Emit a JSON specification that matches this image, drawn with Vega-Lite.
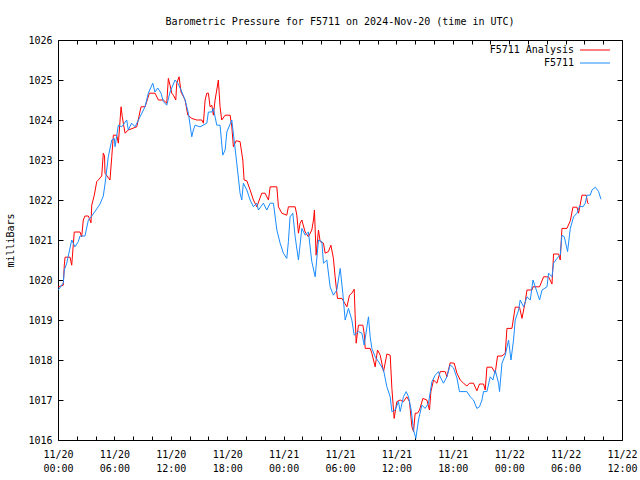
{
"$schema":"https://vega.github.io/schema/vega-lite/v6.json",
"width":564,"height":400,"autosize":"none",
"padding":{"left":58,"top":40,"right":18,"bottom":40},
"background":"#ffffff",
"title":{"text":"Barometric Pressure for F5711 on 2024-Nov-20 (time in UTC)","font":"DejaVu Sans Mono","fontSize":10,"fontWeight":"normal","anchor":"middle","offset":8,"color":"#000"},
"config":{"font":"DejaVu Sans Mono","view":{"stroke":"#000","strokeWidth":1},
"axis":{"domain":false,"grid":false,"tickColor":"#000","tickWidth":1,"labelColor":"#000","labelFont":"DejaVu Sans Mono","labelFontSize":10,"titleFont":"DejaVu Sans Mono","titleFontSize":10,"titleFontWeight":"normal","titleColor":"#000","labelFlush":false,"labelOverlap":false}},
"data":{"values":[
{"series":"F5711 Analysis","hour":0.03,"mb":1019.83},{"series":"F5711 Analysis","hour":0.56,"mb":1019.87},{"series":"F5711 Analysis","hour":0.67,"mb":1020.37},{"series":"F5711 Analysis","hour":0.75,"mb":1020.57},{"series":"F5711 Analysis","hour":1.28,"mb":1020.57},{"series":"F5711 Analysis","hour":1.46,"mb":1020.37},{"series":"F5711 Analysis","hour":1.73,"mb":1021.2},{"series":"F5711 Analysis","hour":2.34,"mb":1021.2},{"series":"F5711 Analysis","hour":2.52,"mb":1021.08},{"series":"F5711 Analysis","hour":2.69,"mb":1021.5},{"series":"F5711 Analysis","hour":2.87,"mb":1021.6},{"series":"F5711 Analysis","hour":3.23,"mb":1021.6},{"series":"F5711 Analysis","hour":3.51,"mb":1021.43},{"series":"F5711 Analysis","hour":3.59,"mb":1021.87},{"series":"F5711 Analysis","hour":3.86,"mb":1022.12},{"series":"F5711 Analysis","hour":4.12,"mb":1022.46},{"series":"F5711 Analysis","hour":4.29,"mb":1022.5},{"series":"F5711 Analysis","hour":4.65,"mb":1022.6},{"series":"F5711 Analysis","hour":4.82,"mb":1023.17},{"series":"F5711 Analysis","hour":4.95,"mb":1023.1},{"series":"F5711 Analysis","hour":5.0,"mb":1022.67},{"series":"F5711 Analysis","hour":5.53,"mb":1022.5},{"series":"F5711 Analysis","hour":5.72,"mb":1023.08},{"series":"F5711 Analysis","hour":5.89,"mb":1023.62},{"series":"F5711 Analysis","hour":6.25,"mb":1023.62},{"series":"F5711 Analysis","hour":6.42,"mb":1023.42},{"series":"F5711 Analysis","hour":6.71,"mb":1024.33},{"series":"F5711 Analysis","hour":6.84,"mb":1024.08},{"series":"F5711 Analysis","hour":7.13,"mb":1023.67},{"series":"F5711 Analysis","hour":7.48,"mb":1023.75},{"series":"F5711 Analysis","hour":8.38,"mb":1023.83},{"series":"F5711 Analysis","hour":8.83,"mb":1024.33},{"series":"F5711 Analysis","hour":9.26,"mb":1024.33},{"series":"F5711 Analysis","hour":9.72,"mb":1024.67},{"series":"F5711 Analysis","hour":10.32,"mb":1024.67},{"series":"F5711 Analysis","hour":10.68,"mb":1024.5},{"series":"F5711 Analysis","hour":11.21,"mb":1024.5},{"series":"F5711 Analysis","hour":11.57,"mb":1024.42},{"series":"F5711 Analysis","hour":11.74,"mb":1025.04},{"series":"F5711 Analysis","hour":11.92,"mb":1024.87},{"series":"F5711 Analysis","hour":12.1,"mb":1024.67},{"series":"F5711 Analysis","hour":12.27,"mb":1024.62},{"series":"F5711 Analysis","hour":12.53,"mb":1024.5},{"series":"F5711 Analysis","hour":12.63,"mb":1024.92},{"series":"F5711 Analysis","hour":12.88,"mb":1025.08},{"series":"F5711 Analysis","hour":13.09,"mb":1024.7},{"series":"F5711 Analysis","hour":13.52,"mb":1024.5},{"series":"F5711 Analysis","hour":13.81,"mb":1024.12},{"series":"F5711 Analysis","hour":14.23,"mb":1024.04},{"series":"F5711 Analysis","hour":14.76,"mb":1024.0},{"series":"F5711 Analysis","hour":15.3,"mb":1024.0},{"series":"F5711 Analysis","hour":15.47,"mb":1023.92},{"series":"F5711 Analysis","hour":15.65,"mb":1024.5},{"series":"F5711 Analysis","hour":15.83,"mb":1024.67},{"series":"F5711 Analysis","hour":16.0,"mb":1024.67},{"series":"F5711 Analysis","hour":16.18,"mb":1024.33},{"series":"F5711 Analysis","hour":16.36,"mb":1024.37},{"series":"F5711 Analysis","hour":16.53,"mb":1024.12},{"series":"F5711 Analysis","hour":16.71,"mb":1024.5},{"series":"F5711 Analysis","hour":16.89,"mb":1024.75},{"series":"F5711 Analysis","hour":17.06,"mb":1025.0},{"series":"F5711 Analysis","hour":17.24,"mb":1024.33},{"series":"F5711 Analysis","hour":17.42,"mb":1024.0},{"series":"F5711 Analysis","hour":17.78,"mb":1024.12},{"series":"F5711 Analysis","hour":18.31,"mb":1024.12},{"series":"F5711 Analysis","hour":18.49,"mb":1023.83},{"series":"F5711 Analysis","hour":18.66,"mb":1023.33},{"series":"F5711 Analysis","hour":18.95,"mb":1023.48},{"series":"F5711 Analysis","hour":19.37,"mb":1023.46},{"series":"F5711 Analysis","hour":19.66,"mb":1023.0},{"series":"F5711 Analysis","hour":19.8,"mb":1022.5},{"series":"F5711 Analysis","hour":20.09,"mb":1022.48},{"series":"F5711 Analysis","hour":20.44,"mb":1022.25},{"series":"F5711 Analysis","hour":20.79,"mb":1022.0},{"series":"F5711 Analysis","hour":21.15,"mb":1021.83},{"series":"F5711 Analysis","hour":21.68,"mb":1022.17},{"series":"F5711 Analysis","hour":22.03,"mb":1022.17},{"series":"F5711 Analysis","hour":22.39,"mb":1022.0},{"series":"F5711 Analysis","hour":22.57,"mb":1022.33},{"series":"F5711 Analysis","hour":23.28,"mb":1022.33},{"series":"F5711 Analysis","hour":23.45,"mb":1021.83},{"series":"F5711 Analysis","hour":23.81,"mb":1021.67},{"series":"F5711 Analysis","hour":24.34,"mb":1021.62},{"series":"F5711 Analysis","hour":24.51,"mb":1021.83},{"series":"F5711 Analysis","hour":25.23,"mb":1021.83},{"series":"F5711 Analysis","hour":25.41,"mb":1021.62},{"series":"F5711 Analysis","hour":25.58,"mb":1021.17},{"series":"F5711 Analysis","hour":25.76,"mb":1021.42},{"series":"F5711 Analysis","hour":25.94,"mb":1021.5},{"series":"F5711 Analysis","hour":26.29,"mb":1021.2},{"series":"F5711 Analysis","hour":26.64,"mb":1021.08},{"series":"F5711 Analysis","hour":27.0,"mb":1021.25},{"series":"F5711 Analysis","hour":27.18,"mb":1021.5},{"series":"F5711 Analysis","hour":27.28,"mb":1021.75},{"series":"F5711 Analysis","hour":27.46,"mb":1020.62},{"series":"F5711 Analysis","hour":27.71,"mb":1021.25},{"series":"F5711 Analysis","hour":27.89,"mb":1020.96},{"series":"F5711 Analysis","hour":28.24,"mb":1020.92},{"series":"F5711 Analysis","hour":28.42,"mb":1020.67},{"series":"F5711 Analysis","hour":28.77,"mb":1020.71},{"series":"F5711 Analysis","hour":29.03,"mb":1020.87},{"series":"F5711 Analysis","hour":29.3,"mb":1020.54},{"series":"F5711 Analysis","hour":29.48,"mb":1020.08},{"series":"F5711 Analysis","hour":29.73,"mb":1019.54},{"series":"F5711 Analysis","hour":30.2,"mb":1019.54},{"series":"F5711 Analysis","hour":30.73,"mb":1019.33},{"series":"F5711 Analysis","hour":31.01,"mb":1019.62},{"series":"F5711 Analysis","hour":31.26,"mb":1019.67},{"series":"F5711 Analysis","hour":31.51,"mb":1019.77},{"series":"F5711 Analysis","hour":31.72,"mb":1018.42},{"series":"F5711 Analysis","hour":31.96,"mb":1018.87},{"series":"F5711 Analysis","hour":32.43,"mb":1018.87},{"series":"F5711 Analysis","hour":32.57,"mb":1018.67},{"series":"F5711 Analysis","hour":32.68,"mb":1018.29},{"series":"F5711 Analysis","hour":33.21,"mb":1018.29},{"series":"F5711 Analysis","hour":33.39,"mb":1018.17},{"series":"F5711 Analysis","hour":33.74,"mb":1017.83},{"series":"F5711 Analysis","hour":33.99,"mb":1018.25},{"series":"F5711 Analysis","hour":34.28,"mb":1018.12},{"series":"F5711 Analysis","hour":34.63,"mb":1017.71},{"series":"F5711 Analysis","hour":34.99,"mb":1018.15},{"series":"F5711 Analysis","hour":35.34,"mb":1018.12},{"series":"F5711 Analysis","hour":35.52,"mb":1017.29},{"series":"F5711 Analysis","hour":35.76,"mb":1016.54},{"series":"F5711 Analysis","hour":36.05,"mb":1016.96},{"series":"F5711 Analysis","hour":36.4,"mb":1017.0},{"series":"F5711 Analysis","hour":36.75,"mb":1016.96},{"series":"F5711 Analysis","hour":37.11,"mb":1017.08},{"series":"F5711 Analysis","hour":37.39,"mb":1016.96},{"series":"F5711 Analysis","hour":37.65,"mb":1016.33},{"series":"F5711 Analysis","hour":37.82,"mb":1016.21},{"series":"F5711 Analysis","hour":38.0,"mb":1016.67},{"series":"F5711 Analysis","hour":38.24,"mb":1016.67},{"series":"F5711 Analysis","hour":38.46,"mb":1016.75},{"series":"F5711 Analysis","hour":38.82,"mb":1017.04},{"series":"F5711 Analysis","hour":39.24,"mb":1017.0},{"series":"F5711 Analysis","hour":39.52,"mb":1016.75},{"series":"F5711 Analysis","hour":39.67,"mb":1017.21},{"series":"F5711 Analysis","hour":39.95,"mb":1017.5},{"series":"F5711 Analysis","hour":40.31,"mb":1017.42},{"series":"F5711 Analysis","hour":40.66,"mb":1017.71},{"series":"F5711 Analysis","hour":41.19,"mb":1017.71},{"series":"F5711 Analysis","hour":41.37,"mb":1017.58},{"series":"F5711 Analysis","hour":41.72,"mb":1017.93},{"series":"F5711 Analysis","hour":42.15,"mb":1017.92},{"series":"F5711 Analysis","hour":42.44,"mb":1017.67},{"series":"F5711 Analysis","hour":42.79,"mb":1017.5},{"series":"F5711 Analysis","hour":43.14,"mb":1017.42},{"series":"F5711 Analysis","hour":43.5,"mb":1017.35},{"series":"F5711 Analysis","hour":43.78,"mb":1017.42},{"series":"F5711 Analysis","hour":44.2,"mb":1017.42},{"series":"F5711 Analysis","hour":44.56,"mb":1017.23},{"series":"F5711 Analysis","hour":44.84,"mb":1017.4},{"series":"F5711 Analysis","hour":45.27,"mb":1017.4},{"series":"F5711 Analysis","hour":45.45,"mb":1017.25},{"series":"F5711 Analysis","hour":45.63,"mb":1017.82},{"series":"F5711 Analysis","hour":46.16,"mb":1017.82},{"series":"F5711 Analysis","hour":46.51,"mb":1017.67},{"series":"F5711 Analysis","hour":46.76,"mb":1018.1},{"series":"F5711 Analysis","hour":47.23,"mb":1018.1},{"series":"F5711 Analysis","hour":47.58,"mb":1018.17},{"series":"F5711 Analysis","hour":47.76,"mb":1018.79},{"series":"F5711 Analysis","hour":48.29,"mb":1018.79},{"series":"F5711 Analysis","hour":48.64,"mb":1019.32},{"series":"F5711 Analysis","hour":49.1,"mb":1019.32},{"series":"F5711 Analysis","hour":49.36,"mb":1019.04},{"series":"F5711 Analysis","hour":49.71,"mb":1019.46},{"series":"F5711 Analysis","hour":49.89,"mb":1019.75},{"series":"F5711 Analysis","hour":50.42,"mb":1019.75},{"series":"F5711 Analysis","hour":50.53,"mb":1019.83},{"series":"F5711 Analysis","hour":51.23,"mb":1019.83},{"series":"F5711 Analysis","hour":51.66,"mb":1020.08},{"series":"F5711 Analysis","hour":52.19,"mb":1020.08},{"series":"F5711 Analysis","hour":52.55,"mb":1019.9},{"series":"F5711 Analysis","hour":52.66,"mb":1020.37},{"series":"F5711 Analysis","hour":52.72,"mb":1020.65},{"series":"F5711 Analysis","hour":53.26,"mb":1020.65},{"series":"F5711 Analysis","hour":53.43,"mb":1020.5},{"series":"F5711 Analysis","hour":53.61,"mb":1021.29},{"series":"F5711 Analysis","hour":54.14,"mb":1021.29},{"series":"F5711 Analysis","hour":54.5,"mb":1021.48},{"series":"F5711 Analysis","hour":54.78,"mb":1021.82},{"series":"F5711 Analysis","hour":55.21,"mb":1021.82},{"series":"F5711 Analysis","hour":55.38,"mb":1021.67},{"series":"F5711 Analysis","hour":55.74,"mb":1022.12},{"series":"F5711 Analysis","hour":56.2,"mb":1022.12},{"series":"F5711 Analysis","hour":56.34,"mb":1021.93},{"series":"F5711 Analysis","hour":56.45,"mb":1021.9},
{"series":"F5711","hour":0.03,"mb":1019.75},{"series":"F5711","hour":0.56,"mb":1019.92},{"series":"F5711","hour":0.67,"mb":1020.25},{"series":"F5711","hour":0.93,"mb":1020.42},{"series":"F5711","hour":1.46,"mb":1021.0},{"series":"F5711","hour":1.81,"mb":1020.83},{"series":"F5711","hour":2.16,"mb":1020.96},{"series":"F5711","hour":2.34,"mb":1021.1},{"series":"F5711","hour":2.87,"mb":1021.1},{"series":"F5711","hour":3.23,"mb":1021.5},{"series":"F5711","hour":3.59,"mb":1021.6},{"series":"F5711","hour":4.04,"mb":1021.75},{"series":"F5711","hour":4.47,"mb":1021.9},{"series":"F5711","hour":4.82,"mb":1022.1},{"series":"F5711","hour":5.0,"mb":1022.4},{"series":"F5711","hour":5.35,"mb":1023.08},{"series":"F5711","hour":5.72,"mb":1023.5},{"series":"F5711","hour":5.99,"mb":1023.54},{"series":"F5711","hour":6.07,"mb":1023.33},{"series":"F5711","hour":6.42,"mb":1023.87},{"series":"F5711","hour":6.78,"mb":1023.83},{"series":"F5711","hour":7.31,"mb":1024.0},{"series":"F5711","hour":7.48,"mb":1023.75},{"series":"F5711","hour":7.84,"mb":1023.92},{"series":"F5711","hour":8.2,"mb":1023.83},{"series":"F5711","hour":8.73,"mb":1024.08},{"series":"F5711","hour":9.26,"mb":1024.33},{"series":"F5711","hour":9.61,"mb":1024.67},{"series":"F5711","hour":10.08,"mb":1024.92},{"series":"F5711","hour":10.32,"mb":1024.7},{"series":"F5711","hour":10.61,"mb":1024.8},{"series":"F5711","hour":10.96,"mb":1024.67},{"series":"F5711","hour":11.21,"mb":1024.46},{"series":"F5711","hour":11.57,"mb":1024.37},{"series":"F5711","hour":11.92,"mb":1024.7},{"series":"F5711","hour":12.45,"mb":1025.0},{"series":"F5711","hour":12.74,"mb":1024.92},{"series":"F5711","hour":13.09,"mb":1024.75},{"series":"F5711","hour":13.52,"mb":1024.5},{"series":"F5711","hour":13.87,"mb":1024.17},{"series":"F5711","hour":14.23,"mb":1023.58},{"series":"F5711","hour":14.4,"mb":1023.75},{"series":"F5711","hour":14.58,"mb":1023.87},{"series":"F5711","hour":15.11,"mb":1023.83},{"series":"F5711","hour":15.83,"mb":1023.92},{"series":"F5711","hour":16.0,"mb":1024.2},{"series":"F5711","hour":16.36,"mb":1024.2},{"series":"F5711","hour":16.53,"mb":1024.29},{"series":"F5711","hour":16.89,"mb":1023.87},{"series":"F5711","hour":17.24,"mb":1023.87},{"series":"F5711","hour":17.53,"mb":1023.12},{"series":"F5711","hour":17.78,"mb":1023.25},{"series":"F5711","hour":17.96,"mb":1023.7},{"series":"F5711","hour":18.49,"mb":1024.0},{"series":"F5711","hour":19.02,"mb":1022.92},{"series":"F5711","hour":19.37,"mb":1022.17},{"series":"F5711","hour":19.55,"mb":1022.0},{"series":"F5711","hour":19.72,"mb":1022.42},{"series":"F5711","hour":20.09,"mb":1022.25},{"series":"F5711","hour":20.44,"mb":1022.0},{"series":"F5711","hour":20.79,"mb":1021.83},{"series":"F5711","hour":21.15,"mb":1021.92},{"series":"F5711","hour":21.32,"mb":1021.75},{"series":"F5711","hour":21.85,"mb":1021.92},{"series":"F5711","hour":22.21,"mb":1021.75},{"series":"F5711","hour":22.57,"mb":1021.92},{"series":"F5711","hour":22.92,"mb":1021.92},{"series":"F5711","hour":23.28,"mb":1021.25},{"series":"F5711","hour":23.63,"mb":1020.92},{"series":"F5711","hour":23.98,"mb":1020.67},{"series":"F5711","hour":24.34,"mb":1020.54},{"series":"F5711","hour":24.51,"mb":1020.96},{"series":"F5711","hour":24.69,"mb":1021.58},{"series":"F5711","hour":24.98,"mb":1021.67},{"series":"F5711","hour":25.23,"mb":1021.08},{"series":"F5711","hour":25.58,"mb":1020.5},{"series":"F5711","hour":25.94,"mb":1021.29},{"series":"F5711","hour":26.29,"mb":1021.12},{"series":"F5711","hour":26.64,"mb":1021.2},{"series":"F5711","hour":27.0,"mb":1020.46},{"series":"F5711","hour":27.36,"mb":1020.08},{"series":"F5711","hour":27.71,"mb":1021.0},{"series":"F5711","hour":28.07,"mb":1020.96},{"series":"F5711","hour":28.24,"mb":1020.42},{"series":"F5711","hour":28.6,"mb":1020.5},{"series":"F5711","hour":28.95,"mb":1019.83},{"series":"F5711","hour":29.3,"mb":1019.62},{"series":"F5711","hour":29.66,"mb":1019.75},{"series":"F5711","hour":30.02,"mb":1020.29},{"series":"F5711","hour":30.3,"mb":1019.67},{"series":"F5711","hour":30.55,"mb":1019.0},{"series":"F5711","hour":30.9,"mb":1019.29},{"series":"F5711","hour":31.26,"mb":1019.0},{"series":"F5711","hour":31.51,"mb":1018.62},{"series":"F5711","hour":31.96,"mb":1018.71},{"series":"F5711","hour":32.33,"mb":1018.67},{"series":"F5711","hour":32.57,"mb":1018.37},{"series":"F5711","hour":33.03,"mb":1019.08},{"series":"F5711","hour":33.21,"mb":1018.58},{"series":"F5711","hour":33.39,"mb":1018.29},{"series":"F5711","hour":33.74,"mb":1018.08},{"series":"F5711","hour":34.09,"mb":1017.96},{"series":"F5711","hour":34.63,"mb":1017.75},{"series":"F5711","hour":34.99,"mb":1017.33},{"series":"F5711","hour":35.34,"mb":1017.08},{"series":"F5711","hour":35.52,"mb":1016.71},{"series":"F5711","hour":35.87,"mb":1016.75},{"series":"F5711","hour":36.22,"mb":1016.96},{"series":"F5711","hour":36.4,"mb":1016.71},{"series":"F5711","hour":36.75,"mb":1017.08},{"series":"F5711","hour":37.04,"mb":1017.21},{"series":"F5711","hour":37.29,"mb":1017.08},{"series":"F5711","hour":37.57,"mb":1016.75},{"series":"F5711","hour":37.82,"mb":1016.25},{"series":"F5711","hour":38.07,"mb":1016.04},{"series":"F5711","hour":38.35,"mb":1016.5},{"series":"F5711","hour":38.71,"mb":1016.87},{"series":"F5711","hour":39.06,"mb":1016.79},{"series":"F5711","hour":39.41,"mb":1016.92},{"series":"F5711","hour":39.78,"mb":1017.46},{"series":"F5711","hour":40.13,"mb":1017.62},{"series":"F5711","hour":40.48,"mb":1017.71},{"series":"F5711","hour":40.66,"mb":1017.58},{"series":"F5711","hour":41.01,"mb":1017.42},{"series":"F5711","hour":41.37,"mb":1017.58},{"series":"F5711","hour":41.72,"mb":1017.88},{"series":"F5711","hour":42.08,"mb":1017.8},{"series":"F5711","hour":42.44,"mb":1017.55},{"series":"F5711","hour":42.71,"mb":1017.21},{"series":"F5711","hour":43.5,"mb":1017.21},{"series":"F5711","hour":43.85,"mb":1017.08},{"series":"F5711","hour":44.2,"mb":1017.0},{"series":"F5711","hour":44.56,"mb":1016.79},{"series":"F5711","hour":44.84,"mb":1016.83},{"series":"F5711","hour":45.1,"mb":1017.0},{"series":"F5711","hour":45.27,"mb":1017.21},{"series":"F5711","hour":45.63,"mb":1017.21},{"series":"F5711","hour":45.98,"mb":1017.58},{"series":"F5711","hour":46.27,"mb":1017.5},{"series":"F5711","hour":46.51,"mb":1017.75},{"series":"F5711","hour":46.87,"mb":1017.42},{"series":"F5711","hour":46.97,"mb":1017.21},{"series":"F5711","hour":47.23,"mb":1017.92},{"series":"F5711","hour":47.58,"mb":1018.12},{"series":"F5711","hour":47.93,"mb":1018.5},{"series":"F5711","hour":48.19,"mb":1018.0},{"series":"F5711","hour":48.46,"mb":1018.5},{"series":"F5711","hour":48.64,"mb":1019.0},{"series":"F5711","hour":49.0,"mb":1019.25},{"series":"F5711","hour":49.17,"mb":1019.5},{"series":"F5711","hour":49.53,"mb":1019.33},{"series":"F5711","hour":49.89,"mb":1019.58},{"series":"F5711","hour":50.24,"mb":1019.5},{"series":"F5711","hour":50.53,"mb":1020.0},{"series":"F5711","hour":50.77,"mb":1019.83},{"series":"F5711","hour":51.23,"mb":1019.5},{"series":"F5711","hour":51.49,"mb":1019.75},{"series":"F5711","hour":52.02,"mb":1019.83},{"series":"F5711","hour":52.19,"mb":1020.17},{"series":"F5711","hour":52.55,"mb":1020.08},{"series":"F5711","hour":52.72,"mb":1020.42},{"series":"F5711","hour":53.08,"mb":1020.54},{"series":"F5711","hour":53.43,"mb":1020.62},{"series":"F5711","hour":53.61,"mb":1021.12},{"series":"F5711","hour":53.86,"mb":1021.08},{"series":"F5711","hour":54.21,"mb":1020.71},{"series":"F5711","hour":54.5,"mb":1021.29},{"series":"F5711","hour":54.85,"mb":1021.58},{"series":"F5711","hour":55.21,"mb":1021.67},{"series":"F5711","hour":55.49,"mb":1021.85},{"series":"F5711","hour":55.85,"mb":1021.83},{"series":"F5711","hour":56.09,"mb":1021.92},{"series":"F5711","hour":56.27,"mb":1022.12},{"series":"F5711","hour":56.62,"mb":1022.12},{"series":"F5711","hour":56.81,"mb":1022.25},{"series":"F5711","hour":57.16,"mb":1022.32},{"series":"F5711","hour":57.51,"mb":1022.21},{"series":"F5711","hour":57.76,"mb":1022.02}
]},
"layer":[
{"mark":{"type":"line","strokeWidth":1,"interpolate":"linear"},
"encoding":{
"x":{"field":"hour","type":"quantitative","scale":{"domain":[0,60],"nice":false,"zero":false},
"axis":{"orient":"bottom","title":null,"values":[0,2,4,6,8,10,12,14,16,18,20,22,24,26,28,30,32,34,36,38,40,42,44,46,48,50,52,54,56,58,60],"tickSize":-4,"labelPadding":13,"labelBaseline":"top","labelLineHeight":14,"labelExpr":"datum.value % 6 == 0 ? ['11/' + (20 + floor(datum.value/24)), (datum.value % 24 < 10 ? '0' : '') + (datum.value % 24) + ':00'] : ''"}},
"y":{"field":"mb","type":"quantitative","scale":{"domain":[1016,1026],"nice":false,"zero":false},
"axis":{"orient":"left","title":"milliBars","values":[1016,1017,1018,1019,1020,1021,1022,1023,1024,1025,1026],"tickSize":-5,"labelPadding":11,"titlePadding":12,"format":"d"}},
"color":{"field":"series","type":"nominal","sort":null,"scale":{"domain":["F5711 Analysis","F5711"],"range":["#ff0000","#1a8cff"]},
"legend":{"orient":"none","legendX":530,"legendY":3,"title":null,"symbolType":"M-2.3,0H2.3","symbolSize":169,"symbolStrokeWidth":1,"symbolFillColor":"transparent","labelAlign":"right","labelOffset":-28,"labelFont":"DejaVu Sans Mono","labelFontSize":10,"labelColor":"#000","rowPadding":1,"padding":0}}}},
{"mark":{"type":"line","opacity":0},
"encoding":{
"x":{"field":"hour","type":"quantitative","axis":{"orient":"top","title":null,"labels":false,"values":[0,2,4,6,8,10,12,14,16,18,20,22,24,26,28,30,32,34,36,38,40,42,44,46,48,50,52,54,56,58,60],"tickSize":-4}},
"y":{"field":"mb","type":"quantitative","axis":{"orient":"right","title":null,"labels":false,"values":[1016,1017,1018,1019,1020,1021,1022,1023,1024,1025,1026],"tickSize":-5}},
"detail":{"field":"series"}}}
],
"resolve":{"axis":{"x":"independent","y":"independent"}}
}
